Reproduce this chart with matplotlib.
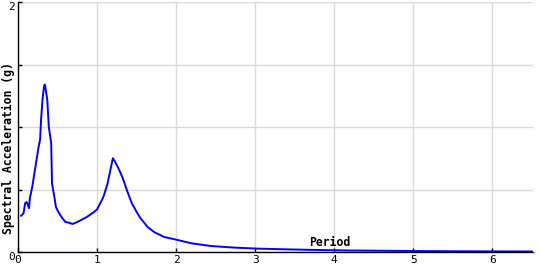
import matplotlib
matplotlib.use("Agg")
import matplotlib.pyplot as plt

period = [0.04, 0.07, 0.09, 0.11, 0.14, 0.15, 0.18, 0.21, 0.24, 0.26, 0.28, 0.29, 0.31, 0.33,
          0.34, 0.35, 0.37, 0.39, 0.42, 0.43, 0.46, 0.48, 0.51, 0.55, 0.60, 0.64, 0.69, 0.75,
          0.81, 0.87, 0.94, 1.00, 1.04, 1.08, 1.13, 1.17, 1.20, 1.23, 1.27, 1.32, 1.38, 1.44,
          1.51, 1.55, 1.64, 1.72, 1.85, 2.02, 2.19, 2.44, 2.74, 3.03, 3.41, 3.8, 4.2, 4.6,
          5.0, 5.5, 6.0, 6.5]
sa = [0.29, 0.31, 0.39, 0.40, 0.35, 0.43, 0.52, 0.64, 0.76, 0.84, 0.90, 1.04, 1.22, 1.33,
      1.34, 1.30, 1.22, 1.00, 0.87, 0.55, 0.44, 0.36, 0.32, 0.28, 0.24, 0.235, 0.224, 0.24,
      0.26, 0.28, 0.31, 0.34, 0.39, 0.44, 0.54, 0.66, 0.75, 0.72, 0.67, 0.60, 0.49, 0.39,
      0.31, 0.27, 0.20, 0.16, 0.12, 0.096, 0.07, 0.048, 0.035, 0.027, 0.021, 0.016, 0.012,
      0.010, 0.008, 0.006, 0.005, 0.004]

xticks = [0, 1, 2, 3, 4, 5, 6]
yticks = [0, 0.5, 1, 1.5, 2]
ytick_labels = ["0", "", "", "", "2"]
xlabel = "Period"
ylabel = "Spectral Acceleration (g)"

mono = "DejaVu Sans Mono"
fig = plt.figure(figsize=(5.4, 2.7), dpi=100)
ax = fig.add_axes([18/540, 18/270, 515/540, 250/270])
ax.plot(period, sa, color="#0000ff", lw=1.4)
ax.set_xlim(0, 6.515)
ax.set_ylim(0, 2)
ax.set_xticks(xticks)
ax.set_xticklabels([str(t) for t in xticks], family=mono, fontsize=8)
ax.set_yticks(yticks)
ax.set_yticklabels(ytick_labels, family=mono, fontsize=8)
ax.tick_params(direction="in", length=3, width=1, pad=2)
ytl = ax.get_yticklabels()
ytl[-1].set_va("top")
ytl[0].set_va("top")
ax.grid(True, color="#d9d9d9", lw=1)
ax.set_axisbelow(True)
for s in ["top", "right"]:
    ax.spines[s].set_visible(False)
for s in ["left", "bottom"]:
    ax.spines[s].set_color("black")
    ax.spines[s].set_linewidth(1)
ax.axhline(2, color="#d9d9d9", lw=1.5, zorder=0)

fig.text(330/540, 1 - 242/270, xlabel, family=mono, fontweight="bold", fontsize=8.3,
         ha="center", va="center")
fig.text(8/540, 1 - 148/270, ylabel, family=mono, fontweight="bold", fontsize=8.3,
         rotation=90, ha="center", va="center")

fig.savefig("out.png", dpi=100)
